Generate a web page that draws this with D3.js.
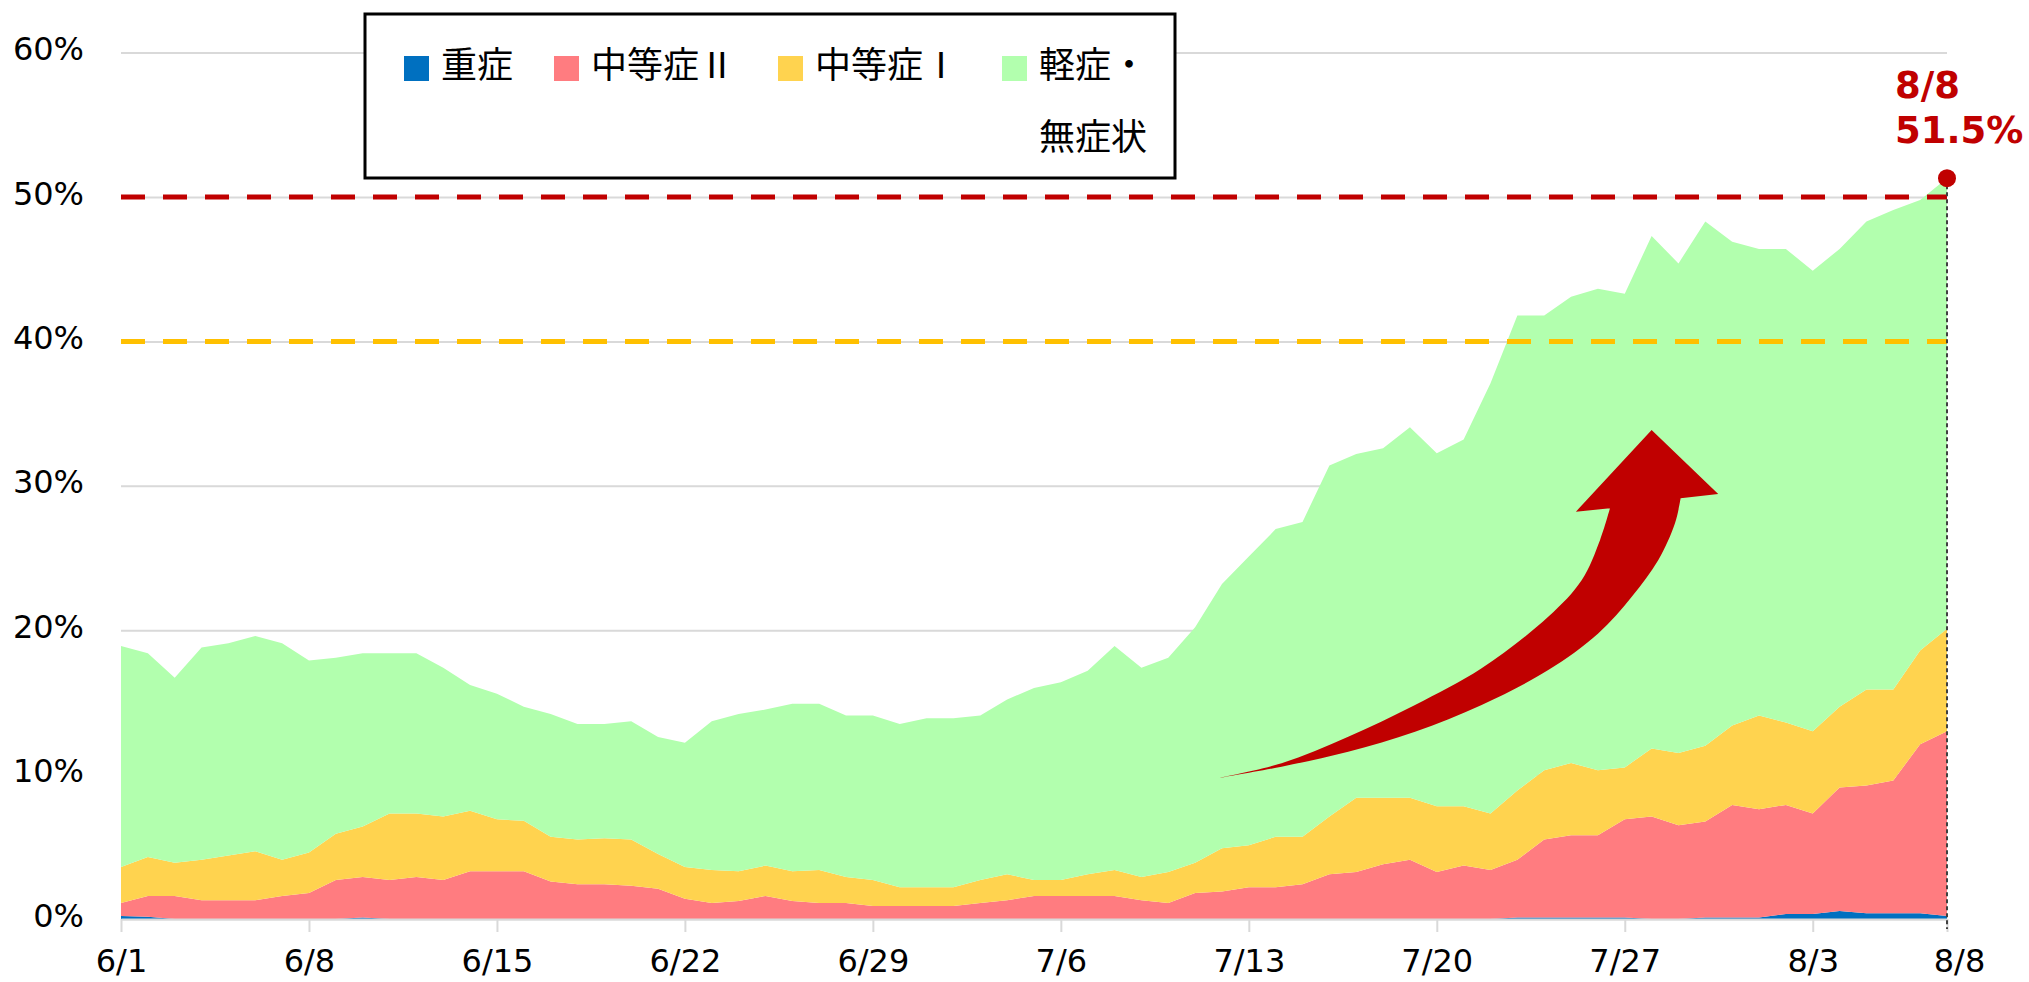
<!DOCTYPE html>
<html>
<head>
<meta charset="utf-8">
<script src="https://cdn.jsdelivr.net/npm/d3@7"></script>
<style>
  html, body { margin: 0; padding: 0; background: #fff; }
  svg { display: block; }
</style>
</head>
<body>
<div id="chart"></div>
<script>
// day index 0 = 6/1 ... 68 = 8/8
const dayCount = 69;

const severe = [0.2, 0.15, 0, 0, 0, 0, 0, 0, 0, 0.1, 0, 0, 0, 0, 0, 0, 0, 0, 0, 0,
  0, 0, 0, 0, 0, 0, 0, 0, 0, 0, 0, 0, 0, 0, 0, 0, 0, 0, 0, 0,
  0, 0, 0, 0, 0, 0, 0, 0, 0, 0, 0, 0, 0.1, 0.1, 0.1, 0.1, 0.1, 0, 0, 0.1,
  0.1, 0.1, 0.35, 0.35, 0.55, 0.4, 0.4, 0.4, 0.2];

const moderate2 = [0.9, 1.45, 1.6, 1.3, 1.3, 1.3, 1.6, 1.8, 2.7, 2.8, 2.7, 2.9, 2.7, 3.3, 3.3, 3.3, 2.6, 2.4, 2.4, 2.3,
  2.1, 1.4, 1.1, 1.25, 1.6, 1.25, 1.1, 1.1, 0.9, 0.9, 0.9, 0.9, 1.1, 1.3, 1.6, 1.6, 1.6, 1.6, 1.3, 1.1,
  1.8, 1.9, 2.2, 2.2, 2.4, 3.1, 3.25, 3.8, 4.1, 3.25, 3.7, 3.4, 4.0, 5.4, 5.7, 5.7, 6.8, 7.1, 6.5, 6.65,
  7.8, 7.5, 7.55, 6.95, 8.55, 8.85, 9.2, 11.7, 12.8];

const moderate1 = [2.5, 2.7, 2.3, 2.8, 3.1, 3.4, 2.5, 2.8, 3.2, 3.5, 4.6, 4.4, 4.4, 4.2, 3.6, 3.5, 3.1, 3.1, 3.2, 3.2,
  2.4, 2.2, 2.3, 2.05, 2.1, 2.05, 2.3, 1.8, 1.8, 1.3, 1.3, 1.3, 1.6, 1.8, 1.1, 1.1, 1.5, 1.8, 1.6, 2.15,
  2.1, 3.0, 2.9, 3.5, 3.3, 4.0, 5.15, 4.6, 4.3, 4.55, 4.1, 3.9, 4.8, 4.8, 5.0, 4.5, 3.6, 4.7, 5.0, 5.25,
  5.5, 6.5, 5.7, 5.7, 5.6, 6.65, 6.3, 6.5, 7.1];

const mild = [15.3, 14.1, 12.8, 14.7, 14.7, 14.9, 15.0, 13.3, 12.2, 12.0, 11.1, 11.1, 10.3, 8.7, 8.7, 7.9, 8.5, 8.0, 7.9, 8.2,
  8.1, 8.6, 10.3, 10.9, 10.8, 11.6, 11.5, 11.2, 11.4, 11.3, 11.7, 11.7, 11.4, 12.1, 13.3, 13.7, 14.1, 15.5, 14.5, 14.85,
  16.3, 18.3, 20.0, 21.3, 21.8, 24.3, 23.8, 24.2, 25.65, 24.45, 25.4, 29.8, 32.9, 31.5, 32.3, 33.35, 32.8, 35.5, 33.9, 36.3,
  33.5, 32.3, 32.8, 31.9, 31.7, 32.4, 33.2, 31.2, 31.2];

const seriesKeys = ['severe', 'moderate2', 'moderate1', 'mild'];
const seriesNames = ['重症', '中等症Ⅱ', '中等症Ⅰ', '軽症・無症状'];
const seriesColors = ['#0070C0', '#FF7C80', '#FFD34F', '#B2FFAE'];

const tickDays = [0, 7, 14, 21, 28, 35, 42, 49, 56, 63, 68];
const tickLabels = ['6/1', '6/8', '6/15', '6/22', '6/29', '7/6', '7/13', '7/20', '7/27', '8/3', '8/8'];
const yTicks = [0, 10, 20, 30, 40, 50, 60];

const thresholds = [50, 40];
const thresholdColors = ['#C00000', '#FFC000'];

const lastLabel = ['8/8', '51.5%'];

// arrow outline in (day, %) coordinates
const arrowInner = [[40.8, 9.74], [43.22, 10.78], [45.7, 12.62], [48.19, 14.82], [50.67, 17.36],
  [53.15, 20.93], [54.4, 23.48], [55.08, 26.25], [55.45, 28.44]];
const arrowHead = [[54.18, 28.21], [57.0, 33.86], [59.48, 29.43], [58.08, 29.13]];
const arrowOuter = [[58.08, 29.13], [57.87, 27.4], [57.25, 24.86], [56.26, 22.32], [55.01, 19.78], [53.15, 17.24],
  [50.67, 14.82], [48.19, 12.97], [45.7, 11.59], [43.22, 10.55], [40.8, 9.74]];

const width = 2029;
const height = 982;

const rows = d3.range(dayCount).map(i => ({
  day: i,
  severe: severe[i],
  moderate2: moderate2[i],
  moderate1: moderate1[i],
  mild: mild[i],
}));

const svg = d3.select('#chart')
  .append('svg')
  .attr('width', width)
  .attr('height', height)
  .attr('viewBox', `0 0 ${width} ${height}`);

const x = d3.scaleLinear().domain([0, dayCount - 1]).range([121, 1947]);
const y = d3.scaleLinear().domain([0, 60]).range([919, 52.6]);

// gridlines
svg.append('g')
  .attr('class', 'grid')
  .attr('transform', `translate(${x.range()[0]},0)`)
  .call(d3.axisLeft(y).tickValues(yTicks).tickFormat('').tickSize(-(x.range()[1] - x.range()[0])))
  .call(g => g.select('.domain').remove())
  .call(g => g.selectAll('line').attr('stroke', '#D9D9D9').attr('stroke-width', 2));

// stacked areas
const stack = d3.stack().keys(seriesKeys);
const layers = stack(rows);

const area = d3.area()
  .x(d => x(d.data.day))
  .y0(d => y(d[0]))
  .y1(d => y(d[1]));

svg.append('g')
  .selectAll('path')
  .data(layers)
  .join('path')
  .attr('fill', (d, i) => seriesColors[i])
  .attr('d', area);

// x axis
const xAxis = svg.append('g')
  .attr('transform', `translate(0,${y(0)})`)
  .call(d3.axisBottom(x).tickValues(tickDays).tickFormat((d, i) => tickLabels[i]).tickSize(13).tickSizeOuter(0));

xAxis.select('.domain').attr('stroke', '#D9D9D9').attr('stroke-width', 2);
xAxis.selectAll('.tick line').attr('stroke', '#D9D9D9').attr('stroke-width', 2);
xAxis.selectAll('.tick text')
  .attr('y', 53)
  .attr('dy', null)
  .attr('dx', (d, i) => (i === tickDays.length - 1 ? 12 : 0))
  .attr('fill', '#000')
  .style('font-family', '"DejaVu Sans", sans-serif')
  .style('font-size', '32px');

// y axis labels
const yAxis = svg.append('g')
  .attr('transform', 'translate(84,0)')
  .call(d3.axisLeft(y).tickValues(yTicks).tickFormat(d => d + '%').tickSize(0).tickPadding(0));

yAxis.select('.domain').remove();
yAxis.selectAll('.tick text')
  .attr('dy', null)
  .attr('y', 7)
  .attr('fill', '#000')
  .style('font-family', '"DejaVu Sans", sans-serif')
  .style('font-size', '32px');

// threshold dashed lines
svg.append('g')
  .selectAll('line')
  .data(thresholds)
  .join('line')
  .attr('x1', x(0))
  .attr('x2', x(dayCount - 1))
  .attr('y1', d => y(d))
  .attr('y2', d => y(d))
  .attr('stroke', (d, i) => thresholdColors[i])
  .attr('stroke-width', 5)
  .attr('stroke-dasharray', '24,18');

// curved arrow
const arrowLine = d3.line()
  .x(d => x(d[0]))
  .y(d => y(d[1]))
  .curve(d3.curveCatmullRom);

const headPart = arrowHead.map(p => `L${x(p[0])},${y(p[1])}`).join('');
const outerPart = arrowLine(arrowOuter).replace(/^M/, 'L');

svg.append('path')
  .attr('d', arrowLine(arrowInner) + headPart + outerPart + 'Z')
  .attr('fill', '#C00000');

// last point marker
const last = rows[dayCount - 1];
const lastTotal = seriesKeys.reduce((s, k) => s + last[k], 0);

svg.append('line')
  .attr('x1', x(last.day))
  .attr('x2', x(last.day))
  .attr('y1', y(lastTotal))
  .attr('y2', y(0) + 10)
  .attr('stroke', '#404040')
  .attr('stroke-width', 2)
  .attr('stroke-dasharray', '4,3');

svg.append('circle')
  .attr('cx', x(last.day))
  .attr('cy', y(lastTotal))
  .attr('r', 9)
  .attr('fill', '#C00000');

svg.append('g')
  .selectAll('text')
  .data(lastLabel)
  .join('text')
  .attr('x', x(last.day) - 52)
  .attr('y', (d, i) => 98 + i * 45)
  .attr('fill', '#C00000')
  .style('font-family', '"DejaVu Sans", sans-serif')
  .style('font-weight', 'bold')
  .style('font-size', '37px')
  .text(d => d);

// legend
const legend = svg.append('g').attr('class', 'legend');

legend.append('rect')
  .attr('x', 365)
  .attr('y', 14)
  .attr('width', 810)
  .attr('height', 164)
  .attr('fill', '#fff')
  .attr('stroke', '#000')
  .attr('stroke-width', 3);

const charW = 37;
let lx = 404;
seriesNames.forEach((name, i) => {
  const lines = name.length > 4 ? [name.slice(0, 3), name.slice(3)] : [name];
  const item = legend.append('g');
  item.append('rect')
    .attr('x', lx)
    .attr('y', 56)
    .attr('width', 25)
    .attr('height', 25)
    .attr('fill', seriesColors[i]);
  item.selectAll('text')
    .data(lines)
    .join('text')
    .attr('x', lx + 37)
    .attr('y', (d, j) => 62 + j * 72)
    .attr('dominant-baseline', 'central')
    .attr('fill', '#000')
    .style('font-family', '"Noto Sans CJK JP", sans-serif')
    .style('font-size', '36px')
    .text(d => d);
  lx += 37 + d3.max(lines, l => l.length) * charW + 39;
});
</script>
</body>
</html>
